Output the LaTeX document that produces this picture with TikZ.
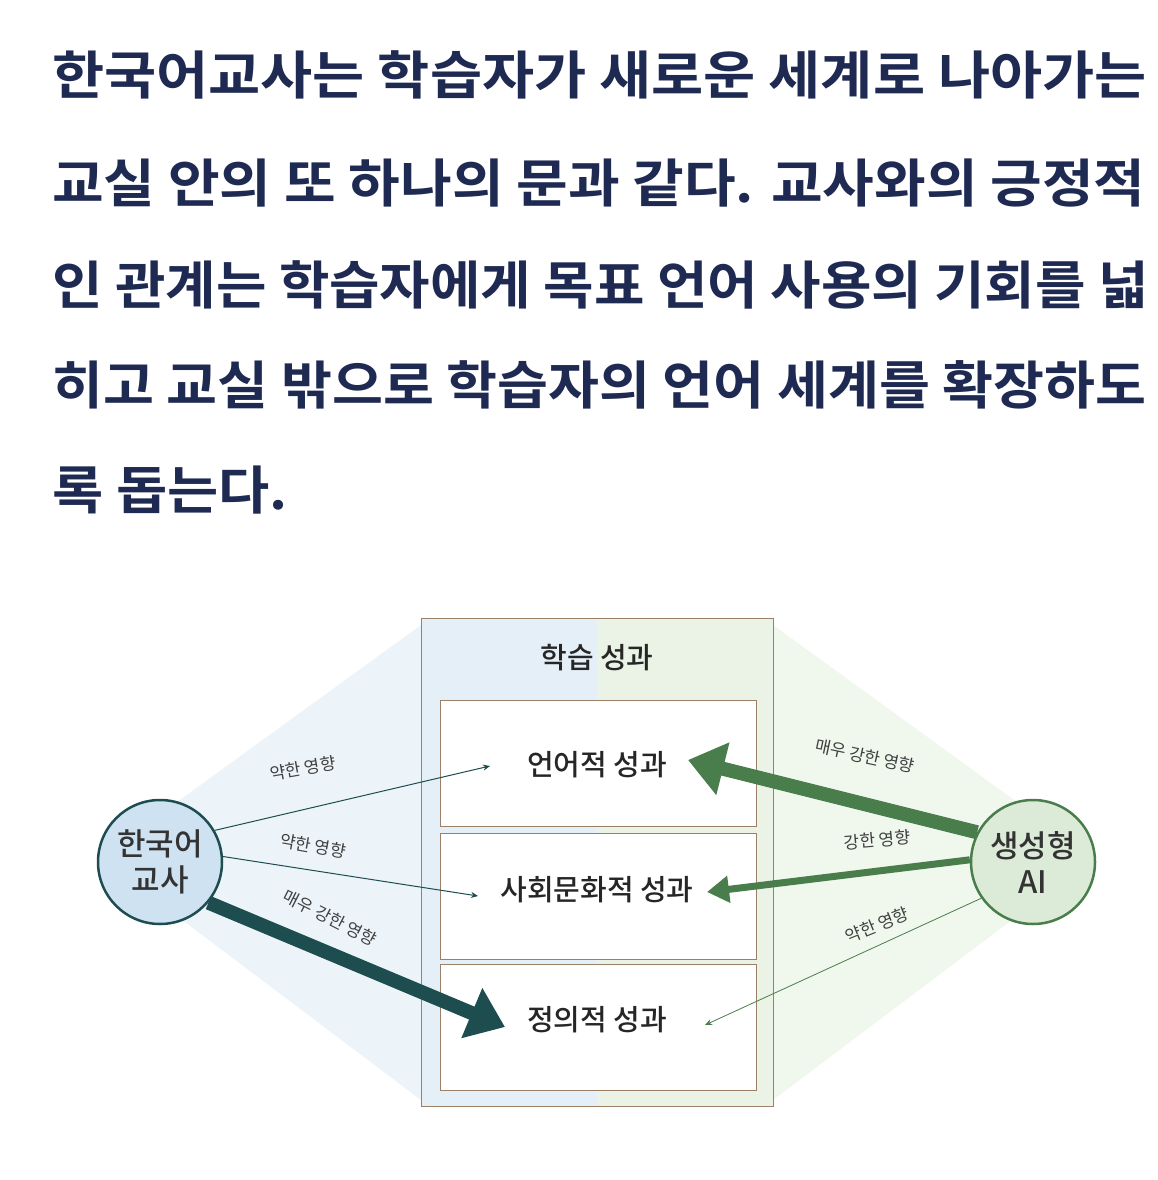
\documentclass[tikz,border=0pt]{standalone}
\usepackage{fontspec}
\setmainfont{Noto Sans CJK KR}
\newfontfamily\kb{Noto Sans CJK KR Bold}
\newfontfamily\km{Noto Sans CJK KR Medium}
\usetikzlibrary{arrows.meta}
\definecolor{navy}{HTML}{1F2A52}
\definecolor{teal}{HTML}{1E4D50}
\definecolor{gr}{HTML}{4A7D4C}
\definecolor{lb}{HTML}{E4EFF8}
\definecolor{lg}{HTML}{EAF3E5}
\definecolor{cb}{HTML}{CFE2F2}
\definecolor{cg}{HTML}{DCEBD7}
\begin{document}
\begin{tikzpicture}[x=1pt,y=-1pt,
 head/.style={anchor=west,font=\kb\fontsize{52}{52}\selectfont,text=navy,inner sep=0},
 box/.style={draw=brown!40!gray,fill=white,line width=1},
 lbl/.style={font=\fontsize{17}{17}\selectfont,text=black!75,inner sep=1},
 btxt/.style={font=\km\fontsize{29}{29}\selectfont,text=black!85},
 circ/.style={circle,minimum size=124,line width=2.5,font=\km\fontsize{31}{36}\selectfont,text=black!80,align=center}]
\useasboundingbox (0,0) rectangle (1158,1180);
\fill[white] (0,0) rectangle (1158,1180);
\node[head,xscale=1.09] (l1) at (52,75) {한국어교사는 학습자가 새로운 세계로 나아가는};
\node[head,xscale=1.08] (l2) at (52,183) {교실 안의 또 하나의 문과 같다. 교사와의 긍정적};
\node[head,xscale=1.055] (l3) at (52,285) {인 관계는 학습자에게 목표 언어 사용의 기회를 넓};
\node[head,xscale=1.065] (l4) at (52,385) {히고 교실 밖으로 학습자의 언어 세계를 확장하도};
\node[head,xscale=1.07] (l5) at (52,490) {록 돕는다.};
% background
\fill[lb!70] (421,625) -- (100,858) -- (421,1100) -- cycle;
\fill[lg!70] (773,625) -- (1094,858) -- (773,1100) -- cycle;
\fill[lb] (421,618) rectangle (597,1106);
\fill[lg] (597,618) rectangle (773,1106);
\draw[brown!40!gray,line width=1] (421,618) rectangle (773,1106);
\node[btxt] (title) at (597,658) {학습 성과};
\node[box,minimum width=316,minimum height=126] (b1) at (598,763) {};
\node[box,minimum width=316,minimum height=126] (b2) at (598,896) {};
\node[box,minimum width=316,minimum height=126] (b3) at (598,1027) {};
\node[btxt] (t1) at (597,765) {언어적 성과};
\node[btxt] (t2) at (597,890) {사회문화적 성과};
\node[btxt] (t3) at (597,1020) {정의적 성과};
\node[circ,draw=teal,fill=cb] (T) at (160,862) {한국어\\교사};
\node[circ,draw=gr,fill=cg] (A) at (1033,862) {생성형\\AI};
\coordinate (e1) at (490,766); \coordinate (e2) at (478,896); \coordinate (e3) at (505,1027);
\coordinate (f1) at (688,760); \coordinate (f2) at (707,892); \coordinate (f3) at (705,1025);
\draw[teal,line width=1,-{Stealth[length=7,width=6]}] (T.30) -- (e1);
\draw[teal,line width=1,-{Stealth[length=7,width=6]}] (T.5) -- (e2);
\draw[teal,line width=14,-{Triangle[length=36,width=52]}] (T.-40) -- (e3);
\draw[gr,line width=14,-{Triangle[length=36,width=52]}] (A.152) -- (f1);
\draw[gr,line width=7,-{Triangle[length=22,width=26]}] (A.178) -- (f2);
\draw[gr,line width=0.8,-{Stealth[length=7,width=6]}] (A.215) -- (f3);
\node[lbl,rotate=10] (a1) at (303,768) {약한 영향};
\node[lbl,rotate=-10] (a2) at (313,846) {약한 영향};
\node[lbl,rotate=-27] (a3) at (330,918) {매우 강한 영향};
\node[lbl,rotate=-12] (a4) at (865,756) {매우 강한 영향};
\node[lbl,rotate=5] (a5) at (877,840) {강한 영향};
\node[lbl,rotate=22] (a6) at (877,925) {약한 영향};
\end{tikzpicture}
\end{document}
